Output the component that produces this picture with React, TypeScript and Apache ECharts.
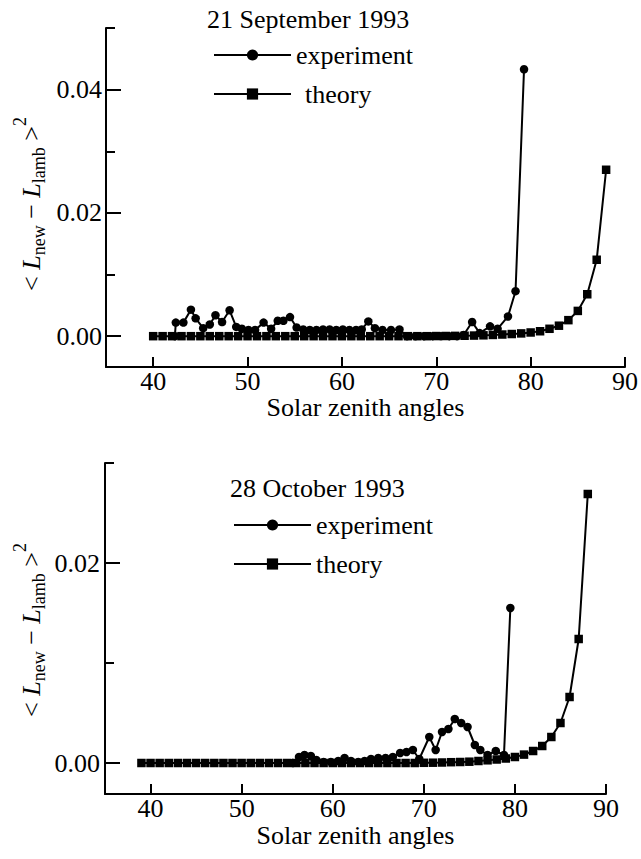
import React, { useEffect, useRef } from 'react';
import * as echarts from 'echarts';

const FONT = 'Liberation Serif, Times New Roman, serif';

const xTicks = [40, 50, 60, 70, 80, 90];
const yMajorTop = [0, 0.02, 0.04];
const yMinorTop = [0.01, 0.03, 0.05];
const yMajorBottom = [0, 0.02];
const yMinorBottom = [0.01, 0.03];

const titleTop = '21 September 1993';
const titleBottom = '28 October 1993';
const legendNames = ['experiment', 'theory'];
const xAxisTitle = 'Solar zenith angles';

// Top panel (21 September 1993)
const expTopX = [42.3, 42.4, 43.2, 44.0, 44.5, 45.3, 46.0, 46.6, 47.3, 48.1, 48.8, 49.4, 50.1, 50.8, 51.7, 52.5, 53.2, 53.8, 54.5, 55.2, 55.9, 56.6, 57.3, 58.0, 58.7, 59.4, 60.1, 60.8, 61.5, 62.1, 62.8, 63.5, 64.3, 65.2, 66.1, 66.9, 67.8, 68.7, 69.6, 70.5, 71.4, 72.2, 72.9, 73.8, 74.6, 75.7, 76.5, 77.6, 78.4, 79.3];
const expTopY = [0, 0.0022, 0.0022, 0.0043, 0.0029, 0.0013, 0.0019, 0.0034, 0.0023, 0.0042, 0.0015, 0.0012, 0.0010, 0.0010, 0.0022, 0.0012, 0.0025, 0.0025, 0.0031, 0.0014, 0.0011, 0.0010, 0.0010, 0.0011, 0.0011, 0.0010, 0.0011, 0.0010, 0.0010, 0.0011, 0.0024, 0.0013, 0.0010, 0.0010, 0.0011, 0, 0, 0, 0, 0, 0, 0, 0.0002, 0.0023, 0.0005, 0.0016, 0.0012, 0.0032, 0.0073, 0.0433];
const theoTopX = [40, 41, 42, 43, 44, 45, 46, 47, 48, 49, 50, 51, 52, 53, 54, 55, 56, 57, 58, 59, 60, 61, 62, 63, 64, 65, 66, 67, 68, 69, 70, 71, 72, 73, 74, 75, 76, 77, 78, 79, 80, 81, 82, 83, 84, 85, 86, 87, 88];
const theoTopY = [0, 0, 0, 0, 0, 0, 0, 0, 0, 0, 0, 0, 0, 0, 0, 0, 0, 0, 0, 0, 0, 0, 0, 0, 0, 0, 0, 0, 0, 0, 0.00002, 0.00003, 0.00005, 0.00007, 0.0001, 0.00014, 0.0002, 0.00027, 0.00035, 0.00045, 0.0006, 0.0008, 0.0012, 0.0017, 0.0026, 0.0041, 0.0068, 0.0124, 0.027];

// Bottom panel (28 October 1993)
const expBotX = [55.6, 56.3, 56.9, 57.6, 58.2, 59.0, 59.8, 60.6, 61.3, 62.0, 62.8, 63.5, 64.2, 65.0, 65.8, 66.6, 67.4, 68.1, 68.8, 69.5, 70.6, 71.3, 72.0, 72.7, 73.4, 74.1, 74.8, 75.6, 76.2, 77.0, 77.9, 78.8, 79.5];
const expBotY = [0, 0.0006, 0.0008, 0.0007, 0.0003, 0.0001, 0.0001, 0.0002, 0.0005, 0.0002, 0.0001, 0.0002, 0.0004, 0.0005, 0.0005, 0.0006, 0.0010, 0.0011, 0.0013, 0.0004, 0.0026, 0.0013, 0.0031, 0.0034, 0.0044, 0.0040, 0.0036, 0.0018, 0.0013, 0.0008, 0.0012, 0.0008, 0.0155];
const theoBotX = [39, 40, 41, 42, 43, 44, 45, 46, 47, 48, 49, 50, 51, 52, 53, 54, 55, 56, 57, 58, 59, 60, 61, 62, 63, 64, 65, 66, 67, 68, 69, 70, 71, 72, 73, 74, 75, 76, 77, 78, 79, 80, 81, 82, 83, 84, 85, 86, 87, 88];
const theoBotY = [0, 0, 0, 0, 0, 0, 0, 0, 0, 0, 0, 0, 0, 0, 0, 0, 0, 0, 0, 0, 0, 0, 0, 0, 0, 0, 0, 0, 0, 0, 0, 0.00002, 0.00003, 0.00005, 0.00008, 0.0001, 0.00013, 0.0002, 0.00027, 0.00035, 0.00045, 0.0006, 0.00084, 0.0012, 0.0017, 0.0026, 0.004, 0.0066, 0.0124, 0.0269];

const zip = (xs: number[], ys: number[]) => xs.map((x, i) => [x, ys[i]]);

type Part = { t: string; size: number; italic?: boolean; dy: number; gap?: boolean };
const labelParts: Part[] = [
  { t: '<', size: 26, dy: 0 },
  { t: 'L', size: 26, italic: true, dy: 0, gap: true },
  { t: 'new', size: 18, dy: 7 },
  { t: '\u2212', size: 26, dy: 0, gap: true },
  { t: 'L', size: 26, italic: true, dy: 0, gap: true },
  { t: 'lamb', size: 18, dy: 7 },
  { t: '>', size: 26, dy: 0, gap: true },
  { t: '2', size: 18, dy: -12 },
];

function measure(text: string, size: number, italic?: boolean) {
  const ctx = document.createElement('canvas').getContext('2d');
  if (!ctx) return text.length * size * 0.5;
  ctx.font = `${italic ? 'italic ' : ''}${size}px Liberation Serif`;
  return ctx.measureText(text).width;
}

function yLabel(cx: number, cy: number) {
  const space = measure(' ', 26);
  let pos = 0;
  const children: any[] = [];
  labelParts.forEach((p) => {
    if (p.gap) pos += space;
    const style: any = {
      text: p.t,
      fontSize: p.size,
      fontFamily: FONT,
      fill: '#000',
      align: 'left',
      verticalAlign: 'middle',
    };
    if (p.italic) style.fontStyle = 'italic';
    children.push({ type: 'text', x: pos, y: p.dy, style });
    pos += measure(p.t, p.size, p.italic);
  });
  return {
    type: 'group',
    x: cx,
    y: cy + pos / 2,
    rotation: Math.PI / 2,
    children,
  };
}

const black = '#000';
const axisLineStyle = { color: black, width: 2 };
const labelStyle = { fontSize: 26, fontFamily: FONT, color: black };

function xAxisMain(gridIndex: number, nameGap: number) {
  return {
    gridIndex,
    type: 'value',
    min: 35,
    max: 90,
    axisLine: { show: true, onZero: false, lineStyle: axisLineStyle },
    axisTick: { show: true, inside: true, length: 10, customValues: xTicks, lineStyle: axisLineStyle },
    axisLabel: { show: true, customValues: xTicks, margin: 1, ...labelStyle },
    splitLine: { show: false },
    name: xAxisTitle,
    nameLocation: 'middle',
    nameGap,
    nameTextStyle: labelStyle,
  };
}

function xAxisHidden(gridIndex: number) {
  return { gridIndex, type: 'value', min: 35, max: 90, show: false };
}

function yAxisMain(gridIndex: number, min: number, max: number, ticks: number[], margin: number) {
  return {
    gridIndex,
    type: 'value',
    min,
    max,
    axisLine: { show: true, onZero: false, lineStyle: axisLineStyle },
    axisTick: { show: true, inside: true, length: 15, customValues: ticks, lineStyle: axisLineStyle },
    axisLabel: {
      show: true,
      customValues: ticks,
      margin,
      formatter: (v: number) => v.toFixed(2),
      ...labelStyle,
    },
    splitLine: { show: false },
  };
}

function yAxisMinor(gridIndex: number, min: number, max: number, ticks: number[]) {
  return {
    gridIndex,
    type: 'value',
    min,
    max,
    axisLine: { show: false },
    axisTick: { show: true, inside: true, length: 9, customValues: ticks, lineStyle: axisLineStyle },
    axisLabel: { show: false },
    splitLine: { show: false },
  };
}

function lineSeries(name: string, axisIdx: number, data: number[][], symbol: string, z: number) {
  return {
    type: 'line',
    name,
    xAxisIndex: axisIdx,
    yAxisIndex: axisIdx,
    data,
    symbol,
    symbolSize: 8.5,
    showAllSymbol: true,
    lineStyle: { color: black, width: 2 },
    itemStyle: { color: black },
    z,
  };
}

function legend(name: string, left: number, top: number, textPad: number) {
  return {
    data: [name],
    orient: 'vertical',
    left,
    top,
    padding: 0,
    itemWidth: 77,
    itemHeight: 14,
    selectedMode: false,
    textStyle: { fontSize: 26, fontFamily: FONT, color: black, padding: [0, 0, 0, textPad] },
  };
}

export default function App() {
  const ref = useRef<HTMLDivElement>(null);
  useEffect(() => {
    if (!ref.current) return;
    const chart = echarts.init(ref.current, undefined, { renderer: 'svg' });
    const gridTop = { left: 106, top: 28, width: 519, height: 339, outerBoundsMode: 'none' };
    const gridBot = { left: 105, top: 463, width: 501, height: 331, outerBoundsMode: 'none' };
    chart.setOption({
      animation: false,
      backgroundColor: '#fff',
      textStyle: { fontFamily: FONT, color: black },
      grid: [gridTop, { ...gridTop }, gridBot, { ...gridBot }],
      xAxis: [xAxisMain(0, 25), xAxisHidden(1), xAxisMain(2, 28), xAxisHidden(3)],
      yAxis: [
        yAxisMain(0, -0.005, 0.05, yMajorTop, 4),
        yAxisMinor(1, -0.005, 0.05, yMinorTop),
        yAxisMain(2, -0.0031, 0.03, yMajorBottom, 5),
        yAxisMinor(3, -0.0031, 0.03, yMinorBottom),
      ],
      legend: [
        legend(legendNames[0], 213, 42, 0),
        legend(legendNames[1], 213, 81, 9),
        legend(legendNames[0], 233, 512, 0),
        legend(legendNames[1], 233, 551, 0),
      ],
      series: [
        lineSeries(legendNames[0], 0, zip(expTopX, expTopY), 'circle', 2),
        lineSeries(legendNames[1], 0, zip(theoTopX, theoTopY), 'rect', 3),
        lineSeries(legendNames[0], 2, zip(expBotX, expBotY), 'circle', 2),
        lineSeries(legendNames[1], 2, zip(theoBotX, theoBotY), 'rect', 3),
      ],
      graphic: [
        {
          type: 'text',
          x: 207,
          y: 19,
          style: { text: titleTop, fontSize: 26, fontFamily: FONT, fill: black, align: 'left', verticalAlign: 'middle' },
        },
        {
          type: 'text',
          x: 230,
          y: 488,
          style: { text: titleBottom, fontSize: 26, fontFamily: FONT, fill: black, align: 'left', verticalAlign: 'middle' },
        },
        yLabel(31.5, 204),
        yLabel(31.5, 630),
      ],
    });
    return () => chart.dispose();
  }, []);
  return <div ref={ref} style={{ position: 'absolute', left: 0, top: 0, width: 641, height: 859 }} />;
}
